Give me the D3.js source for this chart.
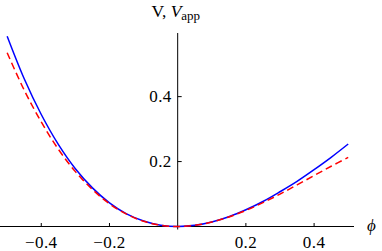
<!DOCTYPE html>
<html>
<head>
<meta charset="utf-8">
<script src="https://cdn.jsdelivr.net/npm/d3@7"></script>
<style>
  html, body { margin: 0; padding: 0; background: #fff; }
  svg { display: block; }
</style>
</head>
<body>
<div id="chart"></div>
<script>
  // phi samples and the two curves
  const phi = [-0.50, -0.45, -0.40, -0.35, -0.30, -0.25, -0.20, -0.15, -0.10, -0.05, 0,
               0.05, 0.10, 0.15, 0.20, 0.25, 0.30, 0.35, 0.40, 0.45, 0.50];
  const V = [0.586, 0.455, 0.345, 0.253, 0.178, 0.119, 0.073, 0.039, 0.017, 0.004, 0,
             0.0036, 0.014, 0.030, 0.0515, 0.077, 0.107, 0.139, 0.175, 0.213, 0.254];
  const Vapp = [0.535, 0.420, 0.322, 0.238, 0.169, 0.114, 0.070, 0.038, 0.016, 0.004, 0,
                0.0036, 0.0137, 0.0294, 0.0495, 0.0734, 0.0998, 0.128, 0.157, 0.1855, 0.213];
  const xTicks = [-0.4, -0.2, 0.2, 0.4];
  const yTicks = [0.2, 0.4];

  const width = 382, height = 251;
  const serif = 'Liberation Serif';

  const svg = d3.select('#chart').append('svg')
    .attr('width', width)
    .attr('height', height)
    .style('font-family', serif);

  // scales: axes cross at the origin
  const x = d3.scaleLinear().domain([-0.521, 0.517]).range([0, 354]);
  const y = d3.scaleLinear().domain([0, 0.596]).range([226.5, 33]);

  const fmt = d => (d < 0 ? '\u2212' : '') + Math.abs(d).toFixed(1);

  // x axis
  const xAxis = svg.append('g').attr('transform', 'translate(0,' + y(0) + ')');
  xAxis.append('line')
    .attr('x1', x.range()[0]).attr('x2', x.range()[1])
    .attr('stroke', '#000').attr('stroke-width', 1);
  xAxis.selectAll('.tick').data(xTicks).enter().append('line')
    .attr('x1', d => x(d)).attr('x2', d => x(d))
    .attr('y1', 0).attr('y2', -3.5)
    .attr('stroke', '#000').attr('stroke-width', 1);
  xAxis.selectAll('.lbl').data(xTicks).enter().append('text')
    .attr('x', d => x(d))
    .attr('y', 21.5)
    .attr('text-anchor', 'middle')
    .style('font-family', serif)
    .style('font-size', '17px')
    .style('letter-spacing', '0.4px')
    .text(fmt);

  // y axis
  const yAxis = svg.append('g').attr('transform', 'translate(' + x(0) + ',0)');
  yAxis.append('line')
    .attr('y1', y.range()[1]).attr('y2', y(0) + 3)
    .attr('stroke', '#000').attr('stroke-width', 1);
  yAxis.selectAll('.tick').data(yTicks).enter().append('line')
    .attr('y1', d => y(d)).attr('y2', d => y(d))
    .attr('x1', 0).attr('x2', 4)
    .attr('stroke', '#000').attr('stroke-width', 1);
  yAxis.selectAll('.lbl').data(yTicks).enter().append('text')
    .attr('x', -6)
    .attr('y', d => y(d) + 5.5)
    .attr('text-anchor', 'end')
    .style('font-family', serif)
    .style('font-size', '17px')
    .style('letter-spacing', '0.4px')
    .text(fmt);

  // axis labels
  svg.append('text')
    .attr('x', 367).attr('y', 231)
    .style('font-family', serif)
    .style('font-size', '17px')
    .style('font-style', 'italic')
    .text('\u03d5');

  const yl = svg.append('text')
    .attr('x', 151.5).attr('y', 16.5)
    .style('font-family', serif)
    .style('font-size', '17.5px');
  yl.append('tspan').text('V, ');
  yl.append('tspan').style('font-style', 'italic').text('V');
  yl.append('tspan').style('font-size', '13px').attr('dy', 3.5).text('app');

  // curves
  const line = d3.line()
    .x((d, i) => x(phi[i]))
    .y(d => y(d))
    .curve(d3.curveCatmullRom);

  svg.append('path')
    .attr('d', line(V))
    .attr('fill', 'none')
    .attr('stroke', '#0000ff')
    .attr('stroke-width', 1.5);

  svg.append('path')
    .attr('d', line(Vapp))
    .attr('fill', 'none')
    .attr('stroke', '#ff0000')
    .attr('stroke-width', 1.5)
    .attr('stroke-dasharray', '7,4');
</script>
</body>
</html>
